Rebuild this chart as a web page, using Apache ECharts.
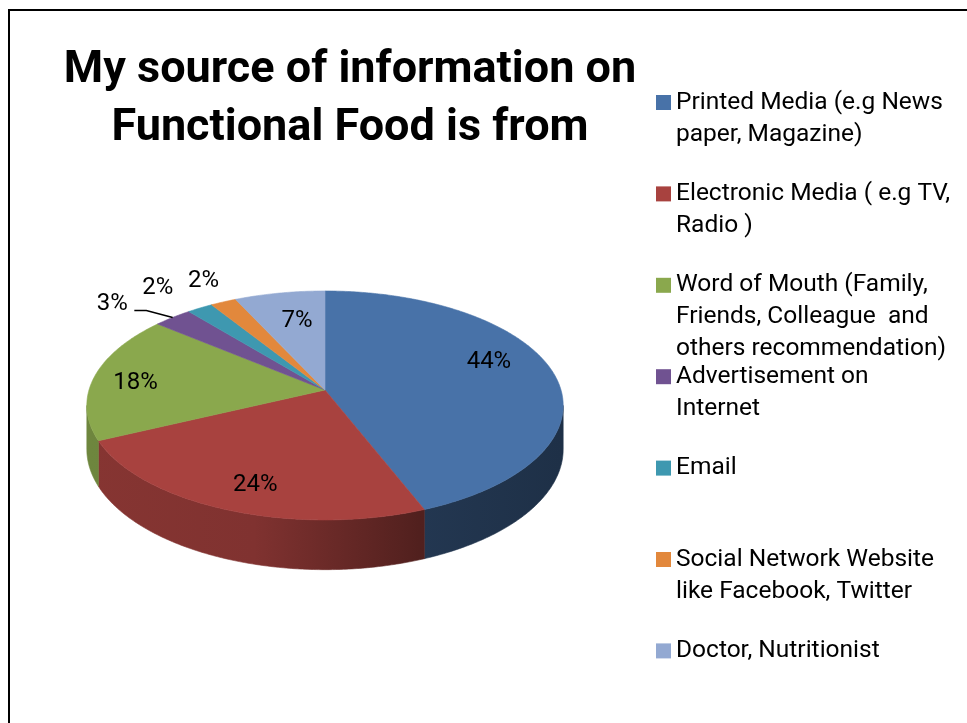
<!DOCTYPE html>
<html>
<head>
<meta charset="utf-8">
<script src="https://cdn.jsdelivr.net/npm/echarts@6/dist/echarts.min.js"></script>
<style>
  html, body { margin: 0; padding: 0; background: #fff; }
  #wrap { position: relative; width: 967px; height: 723px; }
  #chart { position: absolute; left: 0; top: 0; width: 967px; height: 723px; }
  #frame { position: absolute; left: 8px; top: 9px; right: 0; bottom: 0;
           border-left: 2px solid #000; border-top: 2px solid #000; pointer-events: none; }
</style>
</head>
<body>
<div id="wrap"><div id="chart"></div><div id="frame"></div></div>
<script>
// ---- data ----
const categories = [
  'Printed Media (e.g News\npaper, Magazine)',
  'Electronic Media ( e.g TV,\nRadio )',
  'Word of Mouth (Family,\nFriends, Colleague  and\nothers recommendation)',
  'Advertisement on\nInternet',
  'Email',
  'Social Network Website\nlike Facebook, Twitter',
  'Doctor, Nutritionist'
];
const shares = [44, 24, 18, 3, 2, 2, 7];
const titleLines = ['My source of information on', 'Functional Food is from'];

// ---- styling / layout ----
const sliceColors = ['#4872A8', '#A8423F', '#8AA84D', '#705291', '#3E98B0', '#E2883C', '#93A9D2'];
const FONT = 'Roboto, "Noto Sans", sans-serif';
const PIE = { cx: 325, cy: 390, rx: 236, ry: 112.4, persp: 0.135, depth: 43 };
// small hand adjustments of label placement (dx, dy) per slice
const labelShift = [[0, -13], [-1, 12], [-23, 3], [-33, 0], [-20, -6], [-2, -5], [6, 3]];

const TAU = Math.PI * 2;
const total = shares.reduce((a, b) => a + b, 0);
const bounds = [];
let acc = 0;
shares.forEach(v => {
  const a0 = acc / total * TAU;
  acc += v;
  bounds.push([a0, acc / total * TAU]);
});

// perspective projection of a point on the tilted disc; theta clockwise from 12 o'clock
function project(theta, f) {
  const u = Math.sin(theta) * f, v = -Math.cos(theta) * f;
  const d = 1 - PIE.persp * v;
  return [PIE.cx + PIE.rx * u / d, PIE.cy + PIE.ry * v / d, d];
}
function arc(a0, a1, drop) {
  const n = Math.max(2, Math.ceil((a1 - a0) / 0.01));
  const pts = [];
  for (let i = 0; i <= n; i++) {
    const p = project(a0 + (a1 - a0) * i / n, 1);
    pts.push([p[0], p[1] + (drop ? PIE.depth / p[2] : 0)]);
  }
  return pts;
}
function shade(hex, k) {
  const n = parseInt(hex.slice(1), 16);
  const r = Math.round(((n >> 16) & 255) * k), g = Math.round(((n >> 8) & 255) * k), b = Math.round((n & 255) * k);
  return 'rgb(' + r + ',' + g + ',' + b + ')';
}
function sideFill(color) {
  return new echarts.graphic.LinearGradient(PIE.cx - PIE.rx, 0, PIE.cx + PIE.rx, 0, [
    { offset: 0, color: shade(color, 0.8) },
    { offset: 0.35, color: shade(color, 0.76) },
    { offset: 0.7, color: shade(color, 0.48) },
    { offset: 1, color: shade(color, 0.42) }
  ], true);
}
const SIDE_FROM = Math.acos(-PIE.persp), SIDE_TO = TAU - SIDE_FROM;

function sliceRenderer(i) {
  return function () {
    const [a0, a1] = bounds[i];
    const color = sliceColors[i];
    const children = [];
    const s0 = Math.max(a0, SIDE_FROM), s1 = Math.min(a1, SIDE_TO);
    if (s1 > s0) {
      const fill = sideFill(color);
      children.push({
        type: 'polygon', z2: 1,
        shape: { points: arc(s0, s1, false).concat(arc(s0, s1, true).reverse()) },
        style: { fill: fill, stroke: fill, lineWidth: 0.6 }
      });
    }
    children.push({
      type: 'polygon', z2: 10,
      shape: { points: [[PIE.cx, PIE.cy]].concat(arc(a0, a1, false)) },
      style: { fill: color, stroke: color, lineWidth: 0.6 }
    });
    // value label: inside for larger slices, outside for the thin ones
    const mid = (a0 + a1) / 2;
    const inside = shares[i] / total >= 0.05;
    const p = project(mid, inside ? 0.72 : 1.2);
    const lx = p[0] + labelShift[i][0], ly = p[1] + labelShift[i][1];
    children.push({
      type: 'text', z2: 30, x: lx, y: ly,
      style: { text: shares[i] + '%', fill: '#000', fontSize: 24, fontFamily: FONT, align: 'center', verticalAlign: 'middle' }
    });
    if (!inside) {
      const rim = project(mid, 1);
      const sx = lx + 22, sy = ly + 6;
      if (Math.hypot(rim[0] - sx, rim[1] - sy) > 30) {
        children.push({
          type: 'polyline', z2: 30,
          shape: { points: [[sx, sy], [sx + 12, sy], [rim[0], rim[1]]] },
          style: { stroke: '#000', lineWidth: 1.5, fill: null }
        });
      }
    }
    return { type: 'group', children: children };
  };
}

// one legend block per category; blank leading lines keep the swatch beside the first text line
const LEG_LH = 32;
const legends = categories.map((name, i) => {
  const lines = name.split('\n').length;
  const h = (2 * lines - 1) * LEG_LH;
  const center = 102.5 + i * 91.4;
  return {
    data: [name], left: 656, top: center - h / 2, orient: 'vertical', padding: 0,
    itemWidth: 15, itemHeight: 15, icon: 'rect', selectedMode: false,
    formatter: n => '\n'.repeat(lines - 1) + n,
    textStyle: { fontSize: 24.5, fontFamily: FONT, color: '#000', lineHeight: LEG_LH }
  };
});

const chart = echarts.init(document.getElementById('chart'), null, { renderer: 'canvas' });
chart.setOption({
  animation: false,
  color: sliceColors,
  title: {
    text: titleLines.join('\n'), left: 350, top: 42, padding: 0,
    textAlign: 'center', textVerticalAlign: 'top',
    textStyle: { fontSize: 45, fontWeight: 'bold', fontFamily: FONT, color: '#000', lineHeight: 58 }
  },
  legend: legends,
  series: categories.map((name, i) => ({
    type: 'custom', name: name, coordinateSystem: 'none',
    itemStyle: { color: sliceColors[i] },
    data: [shares[i]],
    renderItem: sliceRenderer(i)
  }))
});
</script>
</body>
</html>
